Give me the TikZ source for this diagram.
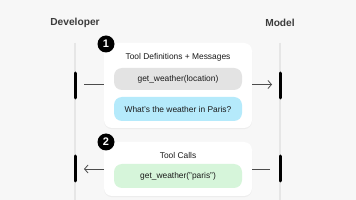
\documentclass[tikz,border=0pt]{standalone}
\usepackage{fontspec}
\setmainfont{Liberation Sans}
\usetikzlibrary{arrows.meta,shadows,positioning}
\definecolor{bg}{HTML}{F7F7F7}
\definecolor{life}{HTML}{E6E6E6}
\definecolor{pillgray}{HTML}{E3E3E3}
\definecolor{pillblue}{HTML}{B5EAFB}
\definecolor{pillgreen}{HTML}{D6F5DA}
\definecolor{ink}{HTML}{1A1A1A}
\tikzset{
  lifeline/.style={draw=life, line width=2pt},
  activebar/.style={draw=black, line width=3pt, line cap=round},
  card/.style={draw=none, fill=white, rounded corners=8pt, inner sep=0pt,
    drop shadow={shadow xshift=0pt, shadow yshift=-1.2pt, opacity=0.08}},
  pill/.style={draw=none, rounded corners=8pt, minimum width=128pt, inner sep=0pt,
    font=\fontsize{8.4}{10}\selectfont, text=ink},
  badge/.style={circle, fill=black, text=white, minimum size=17pt, inner sep=0pt,
    font=\fontsize{11}{12}\selectfont\bfseries},
  actor/.style={font=\fontsize{10.2}{12}\selectfont\bfseries, text=ink!85},
  cardtitle/.style={font=\fontsize{8.4}{10}\selectfont, text=ink},
  msg/.style={draw=black!70, line width=0.8pt},
  msgarrow/.style={msg, -{Straight Barb[length=3.5pt, width=8pt, line width=0.8pt]}}
}
\begin{document}
\begin{tikzpicture}[x=1pt,y=-1pt]
\useasboundingbox (0,0) rectangle (356,200);
\fill[bg] (0,0) rectangle (356,200);

% actors
\node[actor] (dev) at (75,23) {Developer};
\node[actor] (model) at (280,23) {Model};

% lifelines
\coordinate (devtop) at (75,43);
\coordinate (devbot) at (75,200);
\coordinate (modtop) at (280,43);
\coordinate (modbot) at (280,200);
\draw[lifeline] (devtop) -- (devbot);
\draw[lifeline] (modtop) -- (modbot);

% cards
\node[card, minimum width=148pt, minimum height=85pt] (card1) at (178,85.5) {};
\node[card, minimum width=148pt, minimum height=54pt] (card2) at (178,169) {};

% card 1 content
\node[cardtitle] (t1) at (178,57) {Tool Definitions + Messages};
\node[pill, fill=pillgray, minimum height=22pt] (p1) at (178,79) {get\_weather(location)};
\node[pill, fill=pillblue, minimum height=24pt] (p2) at (178,109) {What's the weather in Paris?};

% card 2 content
\node[cardtitle] (t2) at (178,155) {Tool Calls};
\node[pill, fill=pillgreen, minimum height=24pt] (p3) at (178,176) {get\_weather("paris")};

% badges
\node[badge] (b1) at (106,44) {1};
\node[badge] (b2) at (106,142) {2};

% activation bars
\coordinate (da1) at (75,73);
\coordinate (da2) at (75,98);
\coordinate (ma1) at (280,73);
\coordinate (ma2) at (280,98);
\coordinate (db1) at (75,156);
\coordinate (db2) at (75,181);
\coordinate (mb1) at (280,156);
\coordinate (mb2) at (280,181);
\draw[activebar] (da1) -- (da2);
\draw[activebar] (ma1) -- (ma2);
\draw[activebar] (db1) -- (db2);
\draw[activebar] (mb1) -- (mb2);

% messages
\coordinate (m1s) at (84,84.5);
\coordinate (m1e) at (104,84.5);
\coordinate (m2s) at (252,84.5);
\coordinate (m2e) at (272,84.5);
\draw[msg] (m1s) -- (m1e);
\draw[msgarrow] (m2s) -- (m2e);
\coordinate (m3s) at (104,169);
\coordinate (m3e) at (84,169);
\coordinate (m4s) at (270,169);
\coordinate (m4e) at (252,169);
\draw[msgarrow] (m3s) -- (m3e);
\draw[msg] (m4s) -- (m4e);
\end{tikzpicture}
\end{document}
